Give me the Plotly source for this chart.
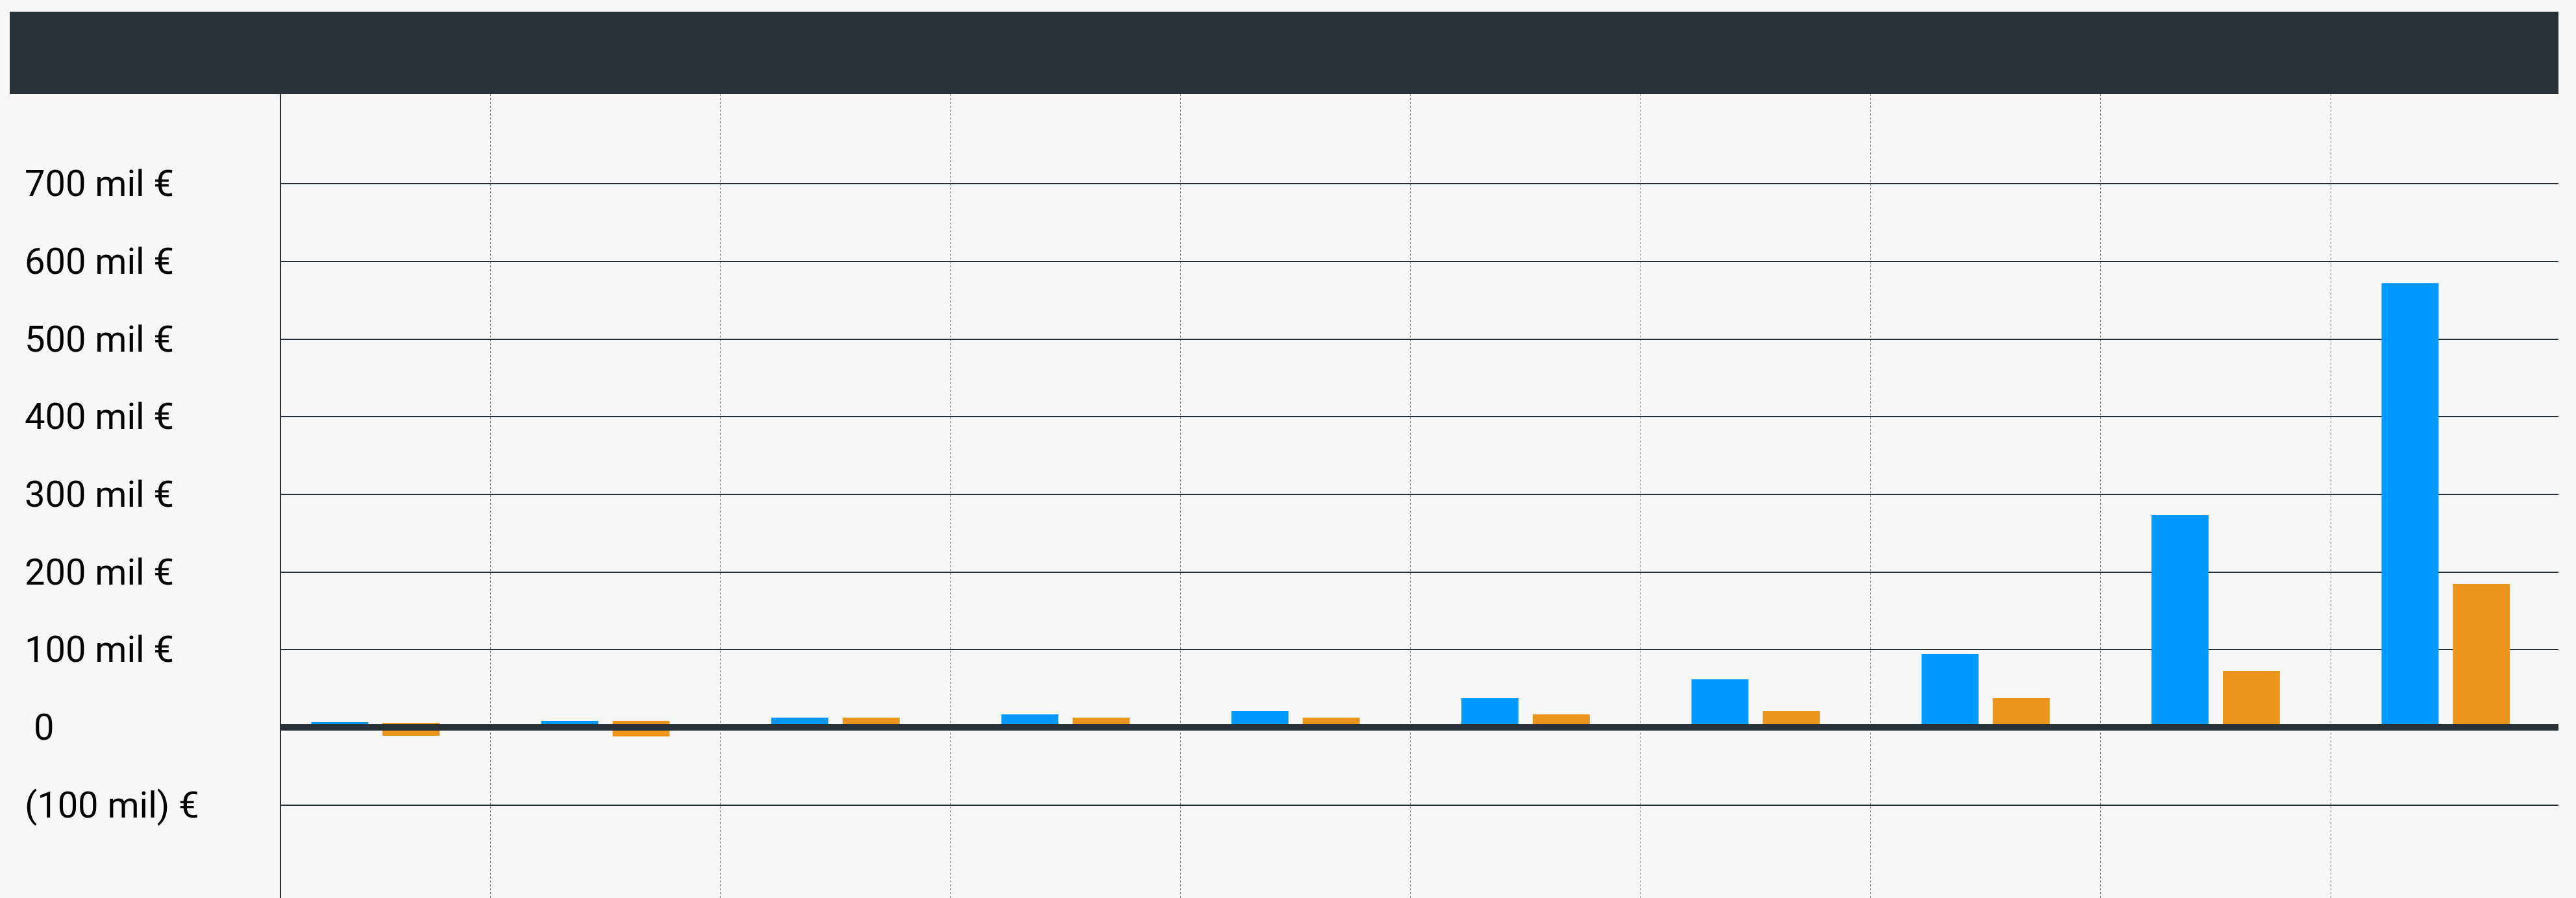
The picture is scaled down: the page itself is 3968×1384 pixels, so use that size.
import plotly.graph_objects as go

# ---------------- data ----------------
categories = ["D1", "D2", "D3", "D4", "D5", "D6", "D7", "D8", "D9", "D10"]
serie_azul = [6.7, 8.4, 12.5, 16.7, 20.9, 37.6, 61.8, 94.4, 273.2, 572.0]
serie_naranja_max = [5.9, 8.4, 12.5, 12.5, 12.5, 16.7, 20.9, 37.6, 72.7, 184.6]
serie_naranja_min = [-10.9, -11.7, 0, 0, 0, 0, 0, 0, 0, 0]
tick_values = [700, 600, 500, 400, 300, 200, 100, 0, -100]
tick_labels = ["700 mil €", "600 mil €", "500 mil €", "400 mil €", "300 mil €",
               "200 mil €", "100 mil €", "\u00a00", "(100 mil) €"]

# ---------------- layout constants ----------------
W, H = 3968, 1384
ML, MR, MT, MB = 433, 27, 145, 0
PW, PH = W - ML - MR, H - MT - MB
DARK = "#263238"
BG = "#f7f7f7"
BLUE = "#0099FF"
ORANGE = "#EC951C"

naranja_alto = [hi - lo for hi, lo in zip(serie_naranja_max, serie_naranja_min)]

fig = go.Figure()
fig.add_trace(go.Bar(x=categories, y=serie_azul, marker=dict(color=BLUE, line=dict(width=0)),
                     name="A"))
fig.add_trace(go.Bar(x=categories, y=naranja_alto, base=serie_naranja_min,
                     marker=dict(color=ORANGE, line=dict(width=0)), name="B"))

annotations = []
label_x = (36 - ML) / PW
for v, t in zip(tick_values, tick_labels):
    annotations.append(dict(x=label_x, xref="paper", xanchor="left",
                            y=v, yref="y", yanchor="middle", text=t, showarrow=False,
                            font=dict(family="Roboto", size=56, color="#000000")))

shapes = [
    # header band
    dict(type="rect", xref="paper", yref="paper",
         x0=(15 - ML) / PW, x1=1, y0=1, y1=1 + (MT - 18) / PH,
         fillcolor=DARK, line=dict(width=0), layer="above"),
    # thick zero line above bars
    dict(type="line", xref="paper", yref="y", x0=0, x1=1, y0=0, y1=0,
         line=dict(color=DARK, width=10), layer="above"),
]

fig.update_layout(
    width=W, height=H, autosize=False,
    margin=dict(l=ML, r=MR, t=MT, b=MB, pad=0),
    paper_bgcolor=BG, plot_bgcolor=BG,
    showlegend=False,
    barmode="group", bargap=0.38, bargroupgap=0.2,
    annotations=annotations, shapes=shapes,
    font=dict(family="Roboto"),
    xaxis=dict(type="category", range=[-0.41, 9.49], tickson="boundaries",
               showgrid=True, gridcolor="#6e6e6e", gridwidth=1, griddash="dot",
               showticklabels=False, ticks="", showline=False, zeroline=False),
    yaxis=dict(range=[-219.7, 815.4], tickmode="array", tickvals=tick_values,
               showticklabels=False, ticks="", showgrid=True, gridcolor=DARK, gridwidth=2,
               zeroline=False, showline=True, linecolor=DARK, linewidth=2),
)

fig.write_html(
    "out.html",
    config={"displayModeBar": False},
    post_script="document.body.style.margin='0';document.body.style.background='#f7f7f7';",
)
